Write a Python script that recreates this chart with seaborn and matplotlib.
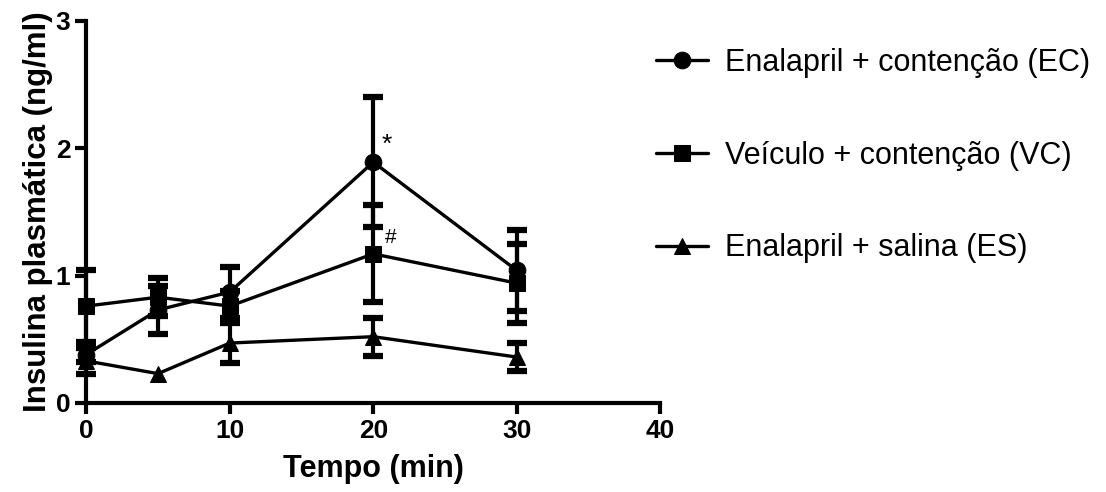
import numpy as np
import pandas as pd
import matplotlib
matplotlib.use('Agg')
import matplotlib.pyplot as plt
import seaborn as sns

# --- data (mean +/- error) ---
tempo = [0, 5, 10, 20, 30]
ec_mean = [0.38, 0.73, 0.87, 1.89, 1.04]
ec_err = [0.06, 0.19, 0.20, 0.51, 0.32]
vc_mean = [0.76, 0.83, 0.76, 1.17, 0.94]
vc_err = [0.28, 0.15, 0.12, 0.38, 0.31]
es_mean = [0.33, 0.23, 0.47, 0.52, 0.36]
es_err = [0.10, 0.0, 0.16, 0.15, 0.11]   # no visible bar at 5 min

grupos = ['Enalapril + contenção (EC)', 'Veículo + contenção (VC)', 'Enalapril + salina (ES)']
marcadores = ['o', 's', '^']

df = pd.concat([
    pd.DataFrame({'Tempo': tempo, 'Insulina': ec_mean, 'Erro': ec_err, 'Grupo': grupos[0]}),
    pd.DataFrame({'Tempo': tempo, 'Insulina': vc_mean, 'Erro': vc_err, 'Grupo': grupos[1]}),
    pd.DataFrame({'Tempo': tempo, 'Insulina': es_mean, 'Erro': es_err, 'Grupo': grupos[2]}),
], ignore_index=True)

sns.set_style('ticks')
plt.rcParams['font.family'] = ['Liberation Sans', 'DejaVu Sans']
plt.rcParams['text.color'] = 'black'
plt.rcParams['axes.labelcolor'] = 'black'
plt.rcParams['xtick.color'] = 'black'
plt.rcParams['ytick.color'] = 'black'

fig = plt.figure(figsize=(11.06, 4.92), dpi=100)
ax = fig.add_axes([0.078, 0.181, 0.519, 0.777])

# error bars first, lines on top
for g in grupos:
    sub = df[(df['Grupo'] == g) & (df['Erro'] > 0)]
    ax.errorbar(sub['Tempo'], sub['Insulina'], yerr=sub['Erro'], fmt='none',
                ecolor='black', elinewidth=3, capsize=7, capthick=4.5, zorder=2)

sns.lineplot(data=df, x='Tempo', y='Insulina', hue='Grupo', style='Grupo',
             markers=dict(zip(grupos, marcadores)), dashes=False,
             palette=['black'] * 3, linewidth=2.4, markersize=12,
             markeredgecolor='black', ax=ax, zorder=3)

ax.text(20.55, 1.93, '*', fontsize=19, ha='left', va='bottom', color='black')
ax.text(20.8, 1.22, '#', fontsize=15, ha='left', va='bottom', color='black')

ax.set_xlim(0, 40)
ax.set_ylim(0, 3)
ax.set_xticks([0, 10, 20, 30, 40])
ax.set_yticks([0, 1, 2, 3])
ax.set_xlabel('Tempo (min)', fontsize=22, fontweight='bold', labelpad=8)
ax.set_ylabel('Insulina plasmática (ng/ml)', fontsize=22.5, fontweight='bold', labelpad=2)
ax.tick_params(axis='both', width=3, length=8, labelsize=19, colors='black')
for lab in ax.get_xticklabels() + ax.get_yticklabels():
    lab.set_fontweight('bold')
for s in ['left', 'bottom']:
    ax.spines[s].set_linewidth(3)
    ax.spines[s].set_color('black')
sns.despine(ax=ax)
for art in ax.get_children():
    try:
        art.set_clip_on(False)
    except Exception:
        pass

handles, labels = ax.get_legend_handles_labels()
leg = ax.legend(handles, labels, loc='upper left', bbox_to_anchor=(0.945, 1.0),
                frameon=False, fontsize=22, labelspacing=2.05, handlelength=1.7,
                handletextpad=0.55)
for t in leg.get_texts():
    t.set_color('black')

plt.savefig('out.png', dpi=100)
